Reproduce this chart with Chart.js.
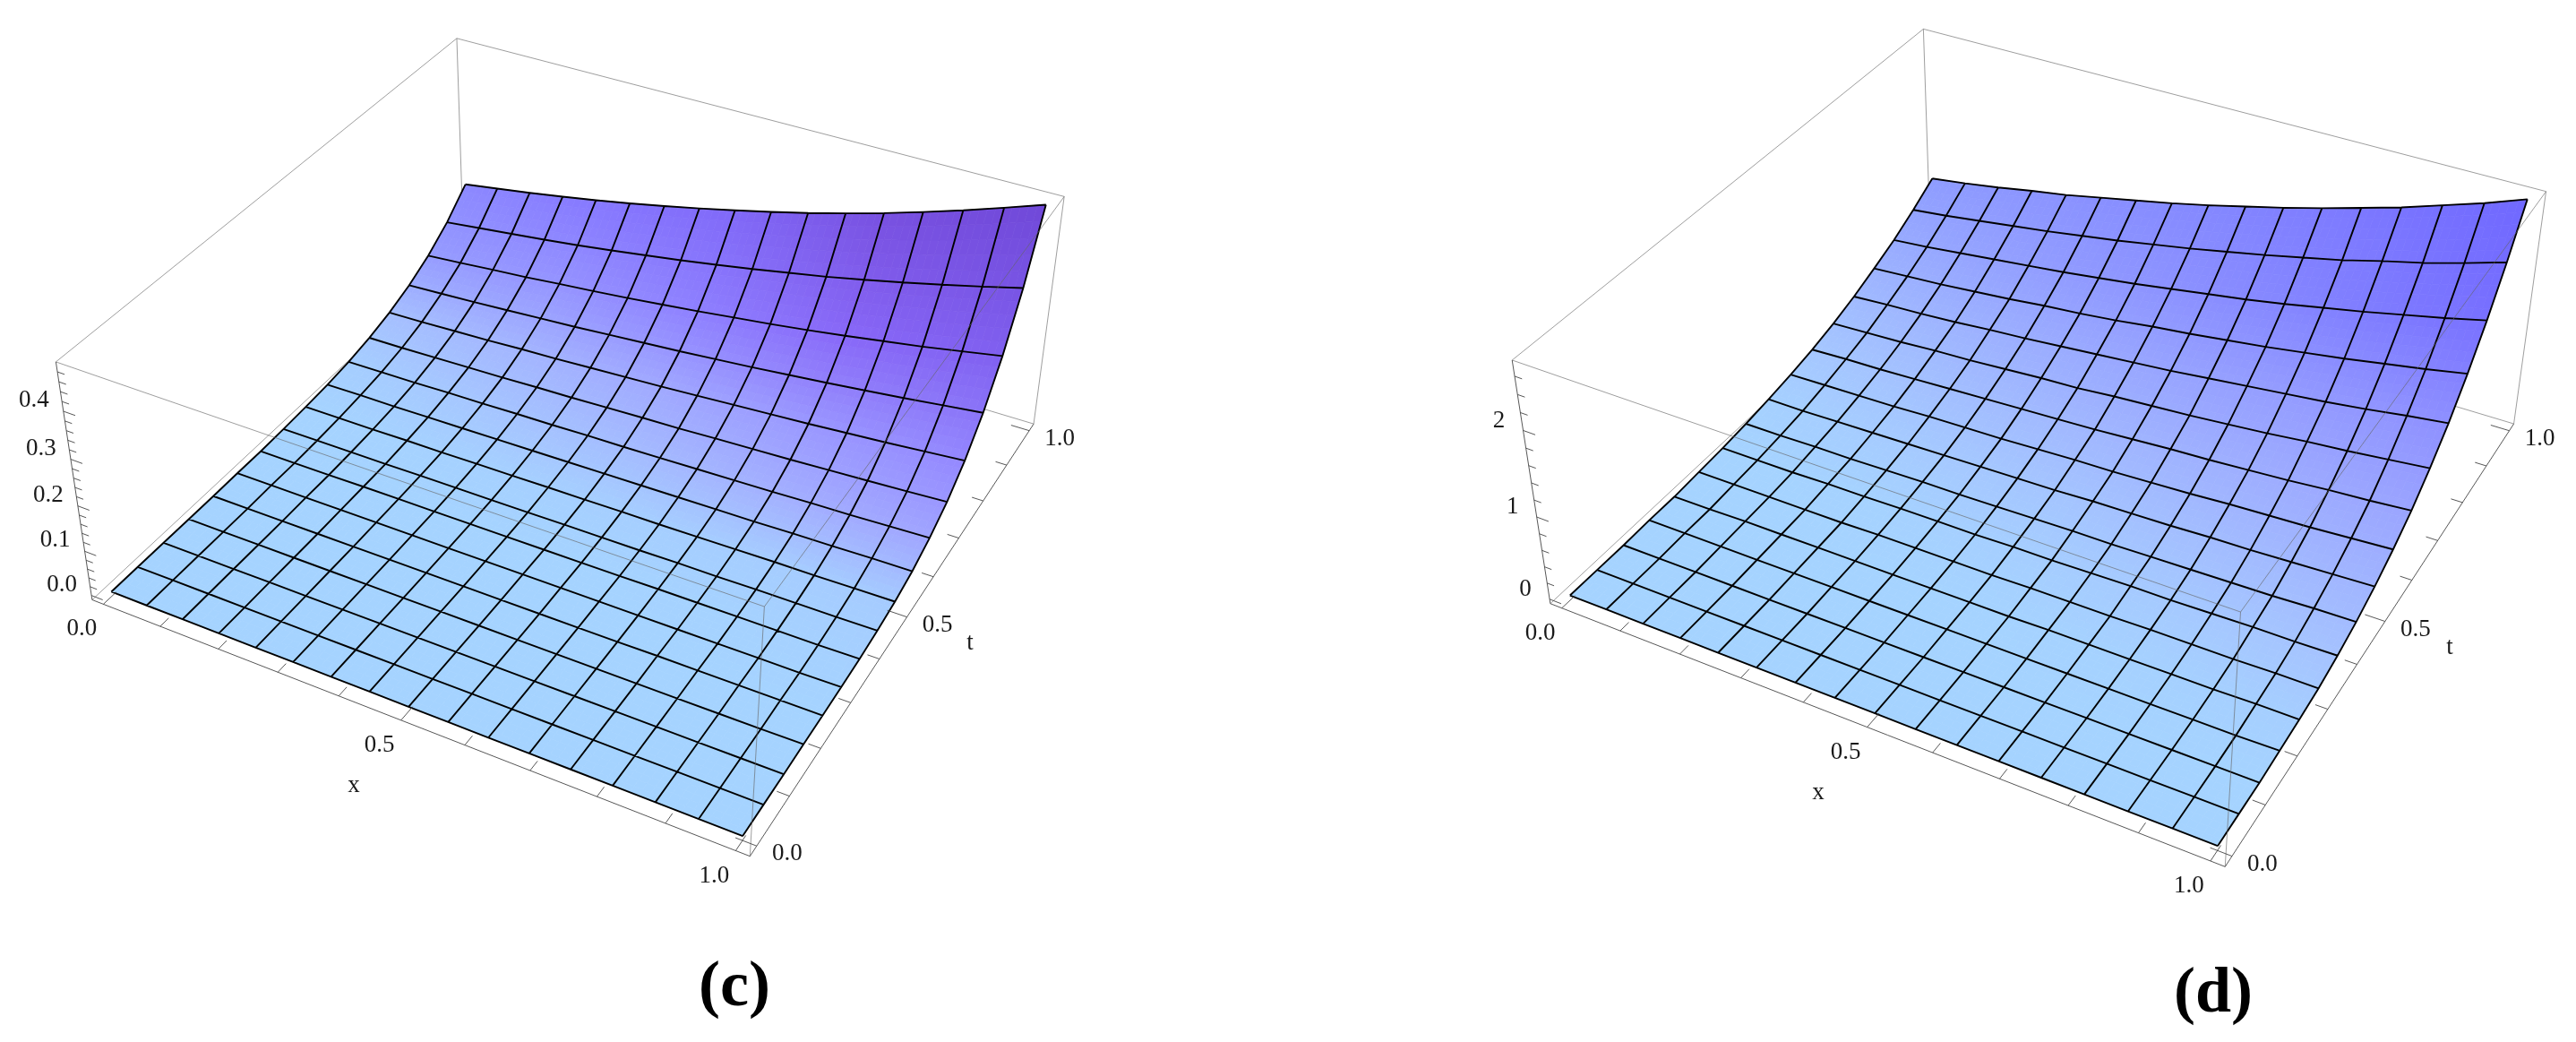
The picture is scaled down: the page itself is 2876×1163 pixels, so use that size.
<!DOCTYPE html>
<html>
<head>
<meta charset="utf-8">
<title>Surface plots (c) and (d)</title>
<script src="https://cdn.jsdelivr.net/npm/chart.js@4/dist/chart.umd.min.js"></script>
<style>
    html, body { margin: 0; padding: 0; background: #fff; }
    canvas { position: absolute; top: 0; }
    #chartC { left: 0; }
    #chartD { left: 1438px; }
</style>
</head>
<body>
<canvas id="chartC" width="1438" height="1163"></canvas>
<canvas id="chartD" width="1438" height="1163"></canvas>
<script>
// mesh positions, same for both panels
const xGrid = [0, 0.0625, 0.125, 0.1875, 0.25, 0.3125, 0.375, 0.4375, 0.5, 0.5625, 0.625, 0.6875, 0.75, 0.8125, 0.875, 0.9375, 1];
const tGrid = [0, 0.0625, 0.125, 0.1875, 0.25, 0.3125, 0.375, 0.4375, 0.5, 0.5625, 0.625, 0.6875, 0.75, 0.8125, 0.875, 0.9375, 1];

// surface heights, one row per t (t = 0 first)
const zValuesC = [
    [0,0,0,0,0,0,0,0,0,0,0,0,0,0,0,0,0],
    [0,0,0,0,0,0,0,0,0,0,0,0,0,0,0,0,0],
    [0,0,0,0,0,0,0,0,0,0,0,0,0,0,0,0,0],
    [0,0,0,0,0,0,0,0,0,0,0,0,0,0,0,0,0.001],
    [0,0,0,0,0,0,0,0,0,0,0,0,0.001,0.001,0.001,0.001,0.001],
    [0.001,0.001,0.001,0.001,0.001,0.001,0.001,0.001,0.001,0.001,0.001,0.001,0.001,0.001,0.001,0.001,0.002],
    [0.001,0.001,0.001,0.002,0.002,0.002,0.002,0.002,0.002,0.002,0.002,0.003,0.003,0.003,0.003,0.003,0.004],
    [0.003,0.003,0.003,0.003,0.004,0.004,0.004,0.004,0.005,0.005,0.005,0.006,0.006,0.007,0.007,0.007,0.008],
    [0.006,0.006,0.006,0.007,0.007,0.008,0.008,0.009,0.009,0.01,0.01,0.011,0.012,0.013,0.013,0.014,0.015],
    [0.01,0.011,0.011,0.012,0.013,0.014,0.015,0.016,0.017,0.018,0.019,0.02,0.021,0.023,0.024,0.026,0.027],
    [0.017,0.018,0.019,0.021,0.022,0.024,0.025,0.027,0.028,0.03,0.032,0.034,0.036,0.039,0.041,0.044,0.047],
    [0.028,0.029,0.031,0.033,0.035,0.038,0.04,0.043,0.046,0.048,0.052,0.055,0.058,0.062,0.066,0.07,0.075],
    [0.043,0.045,0.048,0.051,0.055,0.058,0.062,0.066,0.07,0.075,0.08,0.085,0.09,0.096,0.102,0.109,0.116],
    [0.064,0.068,0.072,0.077,0.082,0.087,0.093,0.099,0.105,0.112,0.119,0.127,0.135,0.144,0.153,0.163,0.173],
    [0.092,0.098,0.105,0.111,0.119,0.126,0.134,0.143,0.152,0.162,0.172,0.183,0.195,0.208,0.221,0.236,0.251],
    [0.13,0.139,0.148,0.157,0.167,0.178,0.19,0.202,0.215,0.229,0.244,0.259,0.276,0.294,0.313,0.333,0.354],
    [0.18,0.192,0.204,0.217,0.231,0.246,0.262,0.279,0.297,0.316,0.336,0.358,0.381,0.406,0.432,0.46,0.489]
];
const zValuesD = [
    [0,0,0,0,0,0,0,0,0,0,0,0,0,0,0,0,0],
    [0,0,0,0,0,0,0,0,0,0,0,0,0,0,0,0,0],
    [0,0,0,0,0,0,0,0,0,0,0,0,0,0,0,0,0],
    [0.01,0.01,0.01,0.01,0.01,0.01,0.01,0.01,0.01,0.01,0.01,0.01,0.01,0.01,0.01,0.01,0.02],
    [0.01,0.01,0.02,0.02,0.02,0.02,0.02,0.02,0.02,0.02,0.03,0.03,0.03,0.03,0.03,0.04,0.04],
    [0.03,0.03,0.03,0.03,0.03,0.04,0.04,0.04,0.04,0.05,0.05,0.05,0.06,0.06,0.06,0.07,0.07],
    [0.05,0.05,0.05,0.06,0.06,0.07,0.07,0.07,0.08,0.08,0.09,0.1,0.1,0.11,0.12,0.12,0.13],
    [0.08,0.08,0.09,0.09,0.1,0.11,0.11,0.12,0.13,0.14,0.14,0.15,0.16,0.17,0.18,0.2,0.21],
    [0.12,0.12,0.13,0.14,0.15,0.16,0.17,0.18,0.19,0.21,0.22,0.23,0.25,0.26,0.28,0.3,0.32],
    [0.17,0.18,0.19,0.2,0.22,0.23,0.24,0.26,0.28,0.29,0.31,0.33,0.36,0.38,0.4,0.43,0.46],
    [0.23,0.25,0.26,0.28,0.3,0.32,0.34,0.36,0.38,0.41,0.44,0.46,0.49,0.52,0.56,0.59,0.63],
    [0.31,0.33,0.35,0.38,0.4,0.43,0.46,0.48,0.52,0.55,0.58,0.62,0.66,0.71,0.75,0.8,0.85],
    [0.41,0.44,0.46,0.49,0.53,0.56,0.6,0.64,0.68,0.72,0.77,0.82,0.87,0.92,0.98,1.05,1.11],
    [0.53,0.56,0.59,0.63,0.67,0.72,0.76,0.81,0.87,0.92,0.98,1.04,1.11,1.18,1.26,1.34,1.43],
    [0.66,0.7,0.75,0.8,0.85,0.9,0.96,1.02,1.09,1.16,1.23,1.31,1.4,1.49,1.59,1.69,1.8],
    [0.82,0.87,0.93,0.99,1.05,1.12,1.19,1.27,1.35,1.44,1.53,1.63,1.73,1.85,1.96,2.09,2.23],
    [1,1.06,1.13,1.21,1.28,1.37,1.46,1.55,1.65,1.76,1.87,1.99,2.12,2.25,2.4,2.55,2.72]
];

// colours at x = 0, .25, .5, .75, 1, one row per t step of 1/8 (t = 0 first)
const colourGridC = [
    ['#a5d3ff', '#a5d3ff', '#a5d3ff', '#a5d3ff', '#a5d3ff'],
    ['#a5d3ff', '#a5d3ff', '#a5d3ff', '#a5d3ff', '#a5d3ff'],
    ['#a5d3ff', '#a5d3ff', '#a5d3ff', '#a5d3ff', '#a5d3ff'],
    ['#a5d3ff', '#a5d3ff', '#a5d3ff', '#a5d2ff', '#a5d0ff'],
    ['#a5d3ff', '#a5d1ff', '#a5cfff', '#a5cdff', '#a5cbff'],
    ['#a5ceff', '#a5c5ff', '#a4bcff', '#a3b0ff', '#a0a5ff'],
    ['#a5bfff', '#a3b5ff', '#a0a8ff', '#9a98ff', '#9488ff'],
    ['#969cff', '#9594ff', '#8e80ff', '#8868f8', '#8060f0'],
    ['#8c88ff', '#8678ff', '#8068f8', '#7850e0', '#7048d8']
];
const colourGridD = [
    ['#a5d3ff', '#a5d3ff', '#a5d3ff', '#a5d3ff', '#a5d3ff'],
    ['#a5d3ff', '#a5d3ff', '#a5d3ff', '#a5d3ff', '#a5d3ff'],
    ['#a5d3ff', '#a5d3ff', '#a5d3ff', '#a5d1ff', '#a5ceff'],
    ['#a5d3ff', '#a5d2ff', '#a5ceff', '#a5c9ff', '#a5c2ff'],
    ['#a5d0ff', '#a5caff', '#a4c4ff', '#a2bcff', '#a0b4ff'],
    ['#a5c7ff', '#a2beff', '#a0b6ff', '#9eaeff', '#9aa4ff'],
    ['#a0baff', '#9cb0ff', '#98a6ff', '#949cff', '#8e90ff'],
    ['#98abff', '#929eff', '#8c92ff', '#8282ff', '#7870ff'],
    ['#8e9cff', '#8a92ff', '#8488ff', '#7c78ff', '#7068ff']
];

// axis ticks
const xTicks = [0, 0.1, 0.2, 0.3, 0.4, 0.5, 0.6, 0.7, 0.8, 0.9, 1];
const tTicks = [0, 0.1, 0.2, 0.3, 0.4, 0.5, 0.6, 0.7, 0.8, 0.9, 1];
const xTickLabels = ['0.0', '0.5', '1.0'];
const tTickLabels = ['0.0', '0.5', '1.0'];
const zTicksC = [0, 0.02, 0.04, 0.06, 0.08, 0.1, 0.12, 0.14, 0.16, 0.18, 0.2, 0.22, 0.24, 0.26, 0.28, 0.3, 0.32, 0.34, 0.36, 0.38, 0.4, 0.42, 0.44, 0.46, 0.48];
const zTicksD = [0, 0.2, 0.4, 0.6, 0.8, 1, 1.2, 1.4, 1.6, 1.8, 2, 2.2, 2.4, 2.6];
const zTickLabelsC = ['0.0', '0.1', '0.2', '0.3', '0.4'];
const zTickLabelsD = ['0', '1', '2'];

// where the plot box sits on the page, used to fit the camera
// keys are xIndex/tIndex/zIndex of the box corner
const boxCornersC = {
    '000': [103, 668], '100': [837, 957], '110': [1154, 473], '010': [518, 283],
    '001': [62, 406], '101': [854, 675], '111': [1188, 220], '011': [510, 42]
};
const boxCornersD = {
    '000': [1731, 673], '100': [2483, 968], '110': [2807, 473], '010': [2156, 278],
    '001': [1688, 403], '101': [2503, 682], '111': [2842, 214], '011': [2147, 32]
};

const panels = [
    {
        canvas: 'chartC', left: 0, corners: boxCornersC, zValues: zValuesC, colours: colourGridC,
        zBox: [-0.01, 0.5], zTicks: zTicksC, zMajorEvery: 5, zLabels: zTickLabelsC,
        xOffset: [-24, 28], tOffset: [34, 9], zOffset: [-33, -12],
        xTitle: [395, 877], tTitle: [1083, 718], caption: '(c)', captionAt: [820, 1103]
    },
    {
        canvas: 'chartD', left: 1438, corners: boxCornersD, zValues: zValuesD, colours: colourGridD,
        zBox: [-0.055, 2.775], zTicks: zTicksD, zMajorEvery: 5, zLabels: zTickLabelsD,
        xOffset: [-24, 28], tOffset: [34, 9], zOffset: [-27, -11],
        xTitle: [2030, 885], tTitle: [2735, 723], caption: '(d)', captionAt: [2471, 1110]
    }
];

const xBox = [-0.02, 1.02];
const tBox = [-0.02, 1.02];
const SERIF = '"Liberation Serif", "Times New Roman", serif';

// --- camera: least squares fit of a 3x4 projection to the box corners ---
function fitCamera(corners) {
    const rows = [];
    const rhs = [];
    Object.keys(corners).forEach(key => {
        const [a, b, c] = key.split('').map(Number);
        const [u, v] = corners[key];
        rows.push([a, b, c, 1, 0, 0, 0, 0, -u * a, -u * b, -u * c]);
        rhs.push(u);
        rows.push([0, 0, 0, 0, a, b, c, 1, -v * a, -v * b, -v * c]);
        rhs.push(v);
    });
    const n = 11;
    const m = [];
    for (let i = 0; i < n; i++) {
        m[i] = [];
        for (let j = 0; j < n; j++) {
            m[i][j] = rows.reduce((sum, r) => sum + r[i] * r[j], 0);
        }
        m[i][n] = rows.reduce((sum, r, k) => sum + r[i] * rhs[k], 0);
    }
    for (let i = 0; i < n; i++) {
        let pivot = i;
        for (let k = i + 1; k < n; k++) {
            if (Math.abs(m[k][i]) > Math.abs(m[pivot][i])) pivot = k;
        }
        [m[i], m[pivot]] = [m[pivot], m[i]];
        for (let k = 0; k < n; k++) {
            if (k === i) continue;
            const f = m[k][i] / m[i][i];
            for (let j = i; j <= n; j++) m[k][j] -= f * m[i][j];
        }
    }
    return m.map((row, i) => row[n] / row[i]);
}

function makeProjector(panel) {
    const c = fitCamera(panel.corners);
    return (x, t, z) => {
        const a = (x - xBox[0]) / (xBox[1] - xBox[0]);
        const b = (t - tBox[0]) / (tBox[1] - tBox[0]);
        const h = (z - panel.zBox[0]) / (panel.zBox[1] - panel.zBox[0]);
        const w = c[8] * a + c[9] * b + c[10] * h + 1;
        return {
            x: (c[0] * a + c[1] * b + c[2] * h + c[3]) / w,
            y: (c[4] * a + c[5] * b + c[6] * h + c[7]) / w
        };
    };
}

function hexToRgb(hex) {
    return [1, 3, 5].map(i => parseInt(hex.slice(i, i + 2), 16));
}

function colourAt(grid, x, t) {
    const nx = grid[0].length - 1;
    const nt = grid.length - 1;
    const i = Math.min(Math.floor(x * nx), nx - 1);
    const j = Math.min(Math.floor(t * nt), nt - 1);
    const fx = x * nx - i;
    const fy = t * nt - j;
    const c00 = hexToRgb(grid[j][i]);
    const c10 = hexToRgb(grid[j][i + 1]);
    const c01 = hexToRgb(grid[j + 1][i]);
    const c11 = hexToRgb(grid[j + 1][i + 1]);
    const mix = c00.map((v, k) => Math.round(
        v * (1 - fx) * (1 - fy) + c10[k] * fx * (1 - fy) + c01[k] * (1 - fx) * fy + c11[k] * fx * fy));
    return `rgb(${mix[0]},${mix[1]},${mix[2]})`;
}

// draws the shaded cells, each one split up so the colour runs smoothly
function drawSurface(chart, panel, project) {
    const ctx = chart.ctx;
    const sx = chart.scales.x;
    const sy = chart.scales.y;
    const zv = panel.zValues;
    const steps = 5;
    const toPixel = (x, t, z) => {
        const p = project(x, t, z);
        return [sx.getPixelForValue(p.x), sy.getPixelForValue(p.y)];
    };
    ctx.save();
    ctx.lineWidth = 0.7;
    for (let j = 0; j < tGrid.length - 1; j++) {
        for (let i = 0; i < xGrid.length - 1; i++) {
            const zAt = (u, v) =>
                zv[j][i] * (1 - u) * (1 - v) + zv[j][i + 1] * u * (1 - v) +
                zv[j + 1][i] * (1 - u) * v + zv[j + 1][i + 1] * u * v;
            for (let b = 0; b < steps; b++) {
                for (let a = 0; a < steps; a++) {
                    const corners = [[a, b], [a + 1, b], [a + 1, b + 1], [a, b + 1]].map(([ca, cb]) => {
                        const u = ca / steps;
                        const v = cb / steps;
                        const x = xGrid[i] + (xGrid[i + 1] - xGrid[i]) * u;
                        const t = tGrid[j] + (tGrid[j + 1] - tGrid[j]) * v;
                        return toPixel(x, t, zAt(u, v));
                    });
                    const col = colourAt(panel.colours,
                        xGrid[i] + (xGrid[i + 1] - xGrid[i]) * (a + 0.5) / steps,
                        tGrid[j] + (tGrid[j + 1] - tGrid[j]) * (b + 0.5) / steps);
                    ctx.fillStyle = col;
                    ctx.strokeStyle = col;
                    ctx.beginPath();
                    ctx.moveTo(corners[0][0], corners[0][1]);
                    for (let k = 1; k < 4; k++) ctx.lineTo(corners[k][0], corners[k][1]);
                    ctx.closePath();
                    ctx.fill();
                    ctx.stroke();
                }
            }
        }
    }
    ctx.restore();
}

function lineData(segments) {
    const out = [];
    segments.forEach(seg => {
        seg.forEach(p => out.push(p));
        out.push({ x: NaN, y: NaN });
    });
    return out;
}

function buildChart(panel) {
    const project = makeProjector(panel);
    const x0 = xBox[0], x1 = xBox[1], t0 = tBox[0], t1 = tBox[1];
    const z0 = panel.zBox[0], z1 = panel.zBox[1];

    const meshLines = [];
    tGrid.forEach((t, j) => meshLines.push(xGrid.map((x, i) => project(x, t, panel.zValues[j][i]))));
    xGrid.forEach((x, i) => meshLines.push(tGrid.map((t, j) => project(x, t, panel.zValues[j][i]))));

    const edge = (a, b) => [project(a[0], a[1], a[2]), project(b[0], b[1], b[2])];
    const backEdges = [
        edge([x0, t1, z0], [x0, t1, z1]),
        edge([x0, t1, z0], [x1, t1, z0]),
        edge([x0, t0, z0], [x0, t1, z0])
    ];
    const frontEdges = [
        edge([x0, t0, z1], [x1, t0, z1]),
        edge([x1, t0, z1], [x1, t1, z1]),
        edge([x1, t0, z0], [x1, t0, z1]),
        edge([x0, t0, z1], [x0, t1, z1]),
        edge([x0, t1, z1], [x1, t1, z1]),
        edge([x1, t1, z0], [x1, t1, z1])
    ];
    const axisEdges = [
        edge([x0, t0, z0], [x1, t0, z0]),
        edge([x1, t0, z0], [x1, t1, z0]),
        edge([x0, t0, z0], [x0, t0, z1])
    ];

    const tickLines = [];
    xTicks.forEach((x, i) => {
        const len = i % 5 === 0 ? 0.03 : 0.02;
        tickLines.push(edge([x, t0, z0], [x, t0 + len, z0]));
    });
    tTicks.forEach((t, i) => {
        const len = i % 5 === 0 ? 0.03 : 0.018;
        tickLines.push(edge([x1, t, z0], [x1 - len, t, z0]));
    });
    panel.zTicks.forEach((z, i) => {
        const len = i % panel.zMajorEvery === 0 ? 0.02 : 0.012;
        tickLines.push(edge([x0, t0, z], [x0 + len, t0, z]));
    });

    const surfaceNodes = [];
    tGrid.forEach((t, j) => xGrid.forEach((x, i) => surfaceNodes.push(project(x, t, panel.zValues[j][i]))));

    const asLine = (label, segments, colour, width, order) => ({
        label: label,
        data: lineData(segments),
        showLine: true,
        spanGaps: false,
        pointRadius: 0,
        borderColor: colour,
        borderWidth: width,
        tension: 0,
        order: order
    });

    const surfacePlugin = {
        id: 'surfaceCells',
        beforeDatasetDraw(chart, args) {
            if (chart.data.datasets[args.index].label === 'surface') drawSurface(chart, panel, project);
        }
    };

    const labelPlugin = {
        id: 'plotLabels',
        afterDraw(chart) {
            const ctx = chart.ctx;
            const sx = chart.scales.x;
            const sy = chart.scales.y;
            const put = (text, px, py) => ctx.fillText(text, sx.getPixelForValue(px), sy.getPixelForValue(py));
            ctx.save();
            ctx.fillStyle = '#1a1a1a';
            ctx.textAlign = 'center';
            ctx.textBaseline = 'middle';
            ctx.font = '27px ' + SERIF;
            xTickLabels.forEach(s => {
                const p = project(parseFloat(s), t0, z0);
                put(s, p.x + panel.xOffset[0], p.y + panel.xOffset[1]);
            });
            tTickLabels.forEach(s => {
                const p = project(x1, parseFloat(s), z0);
                put(s, p.x + panel.tOffset[0], p.y + panel.tOffset[1]);
            });
            panel.zLabels.forEach(s => {
                const p = project(x0, t0, parseFloat(s));
                put(s, p.x + panel.zOffset[0], p.y + panel.zOffset[1]);
            });
            put('x', panel.xTitle[0], panel.xTitle[1]);
            put('t', panel.tTitle[0], panel.tTitle[1]);
            ctx.fillStyle = '#000';
            ctx.font = 'bold 72px ' + SERIF;
            put(panel.caption, panel.captionAt[0], panel.captionAt[1]);
            ctx.restore();
        }
    };

    return new Chart(document.getElementById(panel.canvas), {
        type: 'scatter',
        data: {
            datasets: [
                asLine('axes', axisEdges, '#444', 0.9, 1),
                asLine('ticks', tickLines, '#444', 0.9, 1),
                asLine('box front', frontEdges, 'rgba(100,100,100,0.7)', 0.9, 2),
                asLine('mesh', meshLines, '#000', 1.9, 3),
                { label: 'surface', data: surfaceNodes, pointRadius: 0, showLine: false, order: 4 },
                asLine('box back', backEdges, 'rgba(100,100,100,0.7)', 0.9, 5)
            ]
        },
        options: {
            responsive: false,
            animation: false,
            events: [],
            layout: { padding: 0 },
            plugins: { legend: { display: false }, tooltip: { enabled: false } },
            scales: {
                x: { type: 'linear', display: false, min: panel.left, max: panel.left + 1438 },
                y: { type: 'linear', display: false, min: 0, max: 1163, reverse: true }
            }
        },
        plugins: [surfacePlugin, labelPlugin]
    });
}

panels.forEach(buildChart);
</script>
</body>
</html>
